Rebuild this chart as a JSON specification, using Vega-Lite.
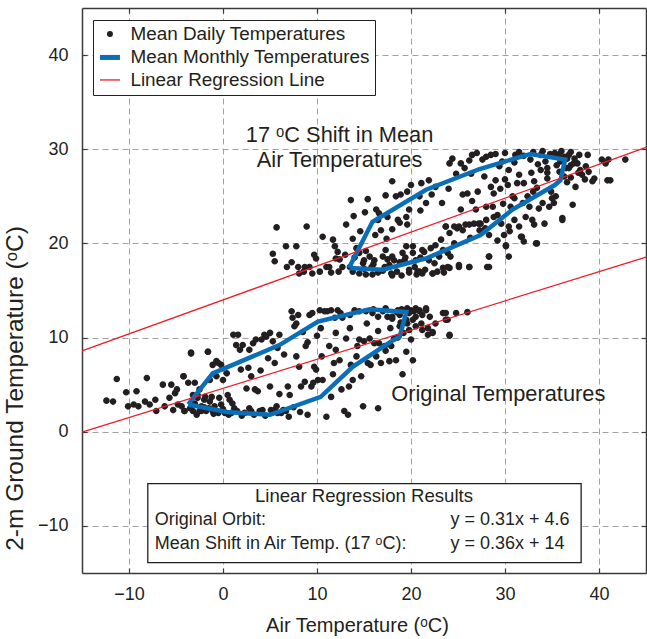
{
  "$schema": "https://vega.github.io/schema/vega-lite/v6.json",
  "width": 564,
  "height": 565,
  "autosize": {"type": "none"},
  "padding": {"left": 82, "top": 8, "right": 1, "bottom": 66},
  "background": "white",
  "datasets": {
    "daily": [
      {"x":5.3,"y":18.9},{"x":5.5,"y":18.1},{"x":5.7,"y":21.7},{"x":6.7,"y":19.7},{"x":6.8,"y":17.5},{"x":7.3,"y":18.0},{"x":7.8,"y":19.7},{"x":8.0,"y":17.5},{"x":8.1,"y":16.8},{"x":8.7,"y":17.5},
      {"x":8.9,"y":21.8},{"x":9.2,"y":17.5},{"x":9.7,"y":18.8},{"x":9.9,"y":18.4},{"x":10.6,"y":20.7},{"x":11.0,"y":17.5},{"x":11.3,"y":17.5},{"x":11.7,"y":20.4},{"x":11.9,"y":19.7},{"x":12.0,"y":18.4},
      {"x":12.2,"y":19.1},{"x":12.4,"y":18.3},{"x":12.7,"y":17.5},{"x":13.1,"y":22.0},{"x":13.5,"y":17.5},{"x":13.6,"y":24.6},{"x":13.8,"y":20.5},{"x":14.2,"y":19.5},{"x":14.5,"y":19.0},{"x":14.9,"y":17.9},
      {"x":15.0,"y":18.2},{"x":15.2,"y":16.7},{"x":15.4,"y":24.7},{"x":15.6,"y":18.6},{"x":15.8,"y":17.5},{"x":15.9,"y":16.7},{"x":16.1,"y":18.2},{"x":16.3,"y":23.6},{"x":16.5,"y":22.5},{"x":16.6,"y":23.2},
      {"x":16.8,"y":21.4},{"x":17.0,"y":18.6},{"x":17.2,"y":17.5},{"x":17.3,"y":25.1},{"x":17.5,"y":22.8},{"x":17.7,"y":17.7},{"x":17.9,"y":16.8},{"x":18.0,"y":26.6},{"x":18.2,"y":18.2},{"x":18.4,"y":25.0},
      {"x":18.6,"y":22.5},{"x":18.8,"y":22.2},{"x":18.9,"y":25.2},{"x":19.1,"y":19.0},{"x":19.3,"y":18.2},{"x":19.5,"y":22.8},{"x":19.6,"y":25.5},{"x":19.8,"y":23.6},{"x":20.0,"y":26.2},{"x":20.2,"y":19.7},
      {"x":20.4,"y":17.5},{"x":20.5,"y":18.2},{"x":20.7,"y":17.0},{"x":20.9,"y":25.0},{"x":21.1,"y":26.4},{"x":21.2,"y":16.8},{"x":21.4,"y":19.1},{"x":21.6,"y":24.3},{"x":21.9,"y":26.7},{"x":22.1,"y":19.5},
      {"x":22.3,"y":16.8},{"x":22.5,"y":17.9},{"x":22.6,"y":26.0},{"x":23.0,"y":18.6},{"x":23.2,"y":20.4},{"x":23.4,"y":19.3},{"x":23.7,"y":21.8},{"x":23.9,"y":17.5},{"x":24.1,"y":28.5},{"x":24.2,"y":18.6},
      {"x":24.4,"y":29.0},{"x":24.6,"y":21.8},{"x":24.8,"y":27.4},{"x":24.9,"y":21.6},{"x":25.1,"y":17.5},{"x":25.3,"y":23.6},{"x":25.5,"y":21.4},{"x":25.7,"y":28.0},{"x":25.8,"y":22.0},{"x":26.0,"y":25.3},
      {"x":26.2,"y":17.5},{"x":26.4,"y":27.4},{"x":26.5,"y":29.4},{"x":26.7,"y":22.1},{"x":26.9,"y":23.6},{"x":27.1,"y":25.5},{"x":27.3,"y":21.4},{"x":27.4,"y":22.1},{"x":27.6,"y":28.9},{"x":27.8,"y":27.1},
      {"x":28.0,"y":22.5},{"x":28.1,"y":17.5},{"x":28.3,"y":18.6},{"x":28.5,"y":29.4},{"x":28.7,"y":23.9},{"x":28.8,"y":25.3},{"x":29.0,"y":26.7},{"x":29.2,"y":23.0},{"x":29.4,"y":28.2},{"x":29.6,"y":22.1},
      {"x":29.7,"y":28.7},{"x":29.9,"y":20.9},{"x":30.1,"y":19.7},{"x":30.3,"y":26.2},{"x":30.4,"y":18.6},{"x":30.6,"y":23.9},{"x":30.8,"y":25.0},{"x":31.0,"y":22.5},{"x":31.1,"y":29.4},{"x":31.3,"y":26.4},
      {"x":31.5,"y":21.8},{"x":31.7,"y":20.7},{"x":31.9,"y":24.3},{"x":32.0,"y":26.4},{"x":32.2,"y":22.8},{"x":32.4,"y":25.0},{"x":32.6,"y":23.9},{"x":32.7,"y":28.9},{"x":32.9,"y":22.5},{"x":33.1,"y":26.6},
      {"x":33.3,"y":20.0},{"x":33.4,"y":25.9},{"x":33.6,"y":23.7},{"x":33.8,"y":29.4},{"x":34.0,"y":24.3},{"x":34.2,"y":22.1},{"x":34.3,"y":28.7},{"x":34.5,"y":26.9},{"x":34.7,"y":23.9},{"x":34.9,"y":25.5},
      {"x":35.0,"y":24.8},{"x":35.2,"y":24.3},{"x":35.4,"y":25.0},{"x":35.7,"y":29.4},{"x":35.9,"y":28.7},{"x":36.1,"y":22.7},{"x":36.3,"y":27.1},{"x":36.5,"y":28.0},{"x":36.6,"y":29.0},{"x":36.8,"y":29.4},
      {"x":37.0,"y":28.3},{"x":37.2,"y":24.1},{"x":37.3,"y":28.5},{"x":37.5,"y":26.0},{"x":37.7,"y":28.5},{"x":37.9,"y":29.4},{"x":38.0,"y":27.8},{"x":38.2,"y":27.3},{"x":38.6,"y":28.2},{"x":38.8,"y":29.4},
      {"x":38.9,"y":27.6},{"x":39.3,"y":26.6},{"x":39.5,"y":26.9},{"x":40.3,"y":28.9},{"x":40.7,"y":28.5},{"x":40.9,"y":26.7},{"x":41.0,"y":28.9},{"x":41.2,"y":26.7},{"x":42.8,"y":28.9},
      {"x":27.0,"y":29.6},{"x":28.0,"y":29.2},{"x":29.0,"y":29.5},{"x":30.0,"y":29.6},{"x":31.5,"y":29.7},{"x":32.0,"y":29.3},{"x":33.0,"y":29.7},{"x":34.0,"y":29.8},{"x":34.8,"y":29.5},{"x":35.3,"y":29.6},
      {"x":36.0,"y":29.8},{"x":36.3,"y":29.2},{"x":37.0,"y":29.7},{"x":37.4,"y":29.0},{"x":35.5,"y":28.3},{"x":34.5,"y":28.0},{"x":36.8,"y":28.0},{"x":37.8,"y":27.5},{"x":38.5,"y":26.8},{"x":36.6,"y":26.5},
      {"x":37.0,"y":27.0},{"x":35.8,"y":27.6},{"x":33.5,"y":28.4},{"x":31.0,"y":28.6},{"x":30.4,"y":27.8},{"x":26.2,"y":28.8},{"x":25.3,"y":28.5},
      {"x":13.8,"y":17.0},{"x":14.5,"y":16.8},{"x":15.0,"y":17.3},{"x":16.5,"y":16.9},{"x":17.0,"y":17.1},{"x":18.5,"y":17.0},{"x":19.0,"y":16.6},{"x":19.8,"y":16.9},{"x":20.6,"y":16.7},{"x":21.5,"y":17.2},
      {"x":22.8,"y":17.0},{"x":23.5,"y":16.9},{"x":16.0,"y":17.8},{"x":17.5,"y":18.3},{"x":18.8,"y":18.0},{"x":14.0,"y":18.5},{"x":15.2,"y":19.2},{"x":13.0,"y":18.8},{"x":12.3,"y":17.0},{"x":11.5,"y":16.9},
      {"x":10.3,"y":17.0},{"x":9.5,"y":16.8},{"x":8.6,"y":17.0},
      {"x":28.5,"y":26.0},{"x":29.5,"y":25.8},{"x":30.0,"y":26.8},{"x":31.5,"y":27.3},{"x":32.8,"y":27.5},{"x":33.8,"y":27.8},{"x":34.5,"y":27.5},{"x":33.0,"y":25.5},{"x":31.0,"y":24.8},{"x":29.8,"y":24.2},
      {"x":28.0,"y":23.9},{"x":26.5,"y":24.5},{"x":25.5,"y":25.2},{"x":24.0,"y":25.8},{"x":23.3,"y":24.3},{"x":22.2,"y":25.2},{"x":21.0,"y":23.5},{"x":19.6,"y":22.0},{"x":18.0,"y":21.5},{"x":17.4,"y":20.5},
      {"x":16.2,"y":20.9},{"x":14.6,"y":21.3},{"x":13.9,"y":22.9},{"x":15.1,"y":23.3},
      {"x":30.5,"y":21.3},{"x":29.2,"y":20.3},{"x":28.8,"y":22.8},{"x":27.9,"y":21.6},{"x":26.3,"y":20.6},{"x":24.6,"y":20.0},{"x":23.9,"y":19.0},{"x":22.6,"y":19.8},{"x":21.0,"y":18.5},{"x":19.4,"y":18.5},
      {"x":23.7,"y":21.8},{"x":24.1,"y":21.1},{"x":25.1,"y":21.8},{"x":26.2,"y":22.0},{"x":27.2,"y":22.1},{"x":28.3,"y":20.9},{"x":30.1,"y":19.8},{"x":30.4,"y":21.8},{"x":31.8,"y":20.7},{"x":32.0,"y":20.2},
      {"x":33.1,"y":22.0},{"x":33.4,"y":20.0},{"x":36.1,"y":22.5},{"x":17.3,"y":19.3},{"x":18.0,"y":18.6},{"x":19.5,"y":19.7},{"x":20.2,"y":19.0},{"x":21.2,"y":19.3},{"x":21.9,"y":18.2},{"x":23.4,"y":17.4},
      {"x":24.1,"y":17.4},{"x":25.1,"y":17.7},{"x":26.2,"y":17.5},{"x":28.3,"y":17.5},{"x":28.3,"y":18.6},{"x":18.0,"y":16.6},{"x":19.8,"y":17.2},{"x":20.9,"y":17.0},{"x":22.3,"y":16.8},
      {"x":-4.2,"y":5.9},{"x":-4.1,"y":2.2},{"x":-3.4,"y":8.4},{"x":-3.2,"y":2.2},{"x":-3.0,"y":5.2},{"x":-2.7,"y":3.9},{"x":-2.5,"y":4.5},{"x":-2.3,"y":2.2},{"x":-2.0,"y":3.4},{"x":-1.8,"y":2.2},
      {"x":-1.6,"y":8.5},{"x":-1.4,"y":5.5},{"x":-1.2,"y":3.7},{"x":-1.1,"y":2.2},{"x":-0.7,"y":7.5},{"x":-0.7,"y":5.9},{"x":-0.5,"y":2.0},{"x":-0.4,"y":3.6},{"x":-0.2,"y":7.1},{"x":0.0,"y":5.5},
      {"x":0.2,"y":2.0},{"x":0.4,"y":6.2},{"x":0.5,"y":3.9},{"x":0.7,"y":3.4},{"x":0.9,"y":2.0},{"x":1.1,"y":10.3},{"x":1.2,"y":2.5},{"x":1.4,"y":9.2},{"x":1.6,"y":10.3},{"x":1.8,"y":8.7},
      {"x":1.9,"y":6.6},{"x":2.1,"y":9.2},{"x":2.3,"y":2.0},{"x":2.5,"y":4.6},{"x":2.7,"y":6.8},{"x":2.8,"y":8.7},{"x":3.0,"y":2.2},{"x":3.2,"y":9.4},{"x":3.4,"y":4.5},{"x":3.5,"y":9.8},
      {"x":3.7,"y":4.3},{"x":3.9,"y":2.2},{"x":4.1,"y":9.8},{"x":4.2,"y":2.3},{"x":4.4,"y":10.3},{"x":4.6,"y":10.1},{"x":4.8,"y":7.8},{"x":5.0,"y":10.5},{"x":5.1,"y":2.3},{"x":5.3,"y":9.6},
      {"x":5.5,"y":2.3},{"x":5.7,"y":2.7},{"x":5.8,"y":8.9},{"x":6.0,"y":10.3},{"x":6.2,"y":2.0},{"x":6.4,"y":2.3},{"x":6.7,"y":2.2},{"x":6.9,"y":4.8},{"x":7.1,"y":3.9},{"x":7.3,"y":12.8},
      {"x":7.4,"y":12.1},{"x":7.6,"y":11.2},{"x":7.8,"y":11.5},{"x":8.0,"y":12.4},{"x":8.1,"y":6.9},{"x":8.3,"y":4.8},{"x":8.5,"y":10.6},{"x":8.7,"y":5.3},{"x":8.8,"y":9.1},{"x":9.0,"y":1.8},
      {"x":9.2,"y":12.4},{"x":9.4,"y":4.8},{"x":9.6,"y":5.2},{"x":9.7,"y":6.9},{"x":9.9,"y":6.6},{"x":10.1,"y":5.5},{"x":10.3,"y":12.9},{"x":10.4,"y":11.0},{"x":10.6,"y":5.5},{"x":10.8,"y":12.8},
      {"x":11.0,"y":1.6},{"x":11.1,"y":12.8},{"x":11.3,"y":9.1},{"x":11.5,"y":3.7},{"x":11.7,"y":6.1},{"x":11.9,"y":12.1},{"x":12.0,"y":8.7},{"x":12.2,"y":12.9},{"x":12.4,"y":7.6},{"x":12.6,"y":4.5},
      {"x":12.7,"y":12.1},{"x":12.9,"y":2.2},{"x":13.1,"y":9.9},{"x":13.3,"y":1.8},{"x":13.4,"y":4.8},{"x":13.6,"y":7.1},{"x":13.8,"y":5.5},{"x":14.0,"y":12.9},{"x":14.2,"y":8.0},{"x":14.3,"y":9.1},
      {"x":14.5,"y":9.8},{"x":14.7,"y":5.9},{"x":14.9,"y":2.7},{"x":15.0,"y":9.6},{"x":15.2,"y":12.8},{"x":15.4,"y":7.3},{"x":15.6,"y":9.9},{"x":15.7,"y":7.1},{"x":15.9,"y":12.6},{"x":16.1,"y":9.4},
      {"x":16.3,"y":8.0},{"x":16.5,"y":2.5},{"x":16.6,"y":9.4},{"x":16.8,"y":7.3},{"x":17.0,"y":12.8},{"x":17.2,"y":9.1},{"x":17.3,"y":13.1},{"x":17.5,"y":12.2},{"x":17.7,"y":7.5},{"x":17.9,"y":9.1},
      {"x":18.0,"y":12.2},{"x":18.2,"y":9.9},{"x":18.4,"y":7.6},{"x":18.6,"y":12.9},{"x":18.8,"y":12.4},{"x":19.1,"y":6.1},{"x":19.3,"y":11.7},{"x":19.5,"y":8.5},{"x":19.6,"y":13.1},{"x":19.8,"y":12.6},
      {"x":20.0,"y":9.8},{"x":20.2,"y":7.6},{"x":20.3,"y":12.8},{"x":20.5,"y":12.2},{"x":20.9,"y":12.9},{"x":21.1,"y":11.5},{"x":21.2,"y":12.4},{"x":21.6,"y":13.1},{"x":21.8,"y":11.0},{"x":22.3,"y":10.5},
      {"x":22.6,"y":11.5},{"x":23.4,"y":12.6},{"x":23.7,"y":11.9},{"x":24.1,"y":10.3},{"x":24.8,"y":12.6},
      {"x":-12.4,"y":3.3},{"x":-11.7,"y":3.2},{"x":-11.3,"y":5.6},{"x":-10.3,"y":4.2},{"x":-10.1,"y":2.7},{"x":-9.5,"y":2.9},{"x":-9.2,"y":4.3},{"x":-9.0,"y":2.7},{"x":-8.3,"y":3.2},{"x":-8.1,"y":5.7},
      {"x":-7.8,"y":2.9},{"x":-7.2,"y":3.4},{"x":-7.1,"y":2.2},{"x":-6.4,"y":5.0},{"x":-6.2,"y":2.7},{"x":-5.7,"y":3.6},{"x":-5.5,"y":5.0},{"x":-5.3,"y":2.3},{"x":-5.1,"y":4.1},{"x":-4.9,"y":4.5},
      {"x":-4.8,"y":2.9},{"x":-4.4,"y":2.7},{"x":-4.2,"y":5.9},{"x":-4.1,"y":2.2},{"x":-3.7,"y":5.2},{"x":-3.4,"y":8.3},{"x":-3.2,"y":3.9},{"x":-3.0,"y":3.0},{"x":-2.7,"y":3.6},{"x":-2.5,"y":2.2},
      {"x":-2.3,"y":2.7},{"x":-1.9,"y":3.7},{"x":-1.6,"y":8.5},{"x":-1.4,"y":3.2},{"x":-1.1,"y":7.1},{"x":-0.9,"y":2.7},{"x":-0.5,"y":7.3},
      {"x":20.0,"y":12.9},{"x":20.5,"y":13.1},{"x":20.9,"y":12.8},{"x":21.6,"y":12.9},{"x":22.0,"y":12.2},{"x":20.2,"y":11.9},{"x":20.5,"y":11.2},{"x":21.2,"y":10.8},{"x":21.8,"y":10.3},{"x":22.3,"y":10.6},
      {"x":23.7,"y":12.6},{"x":23.9,"y":11.9},{"x":24.1,"y":10.2},{"x":26.0,"y":12.7},{"x":19.5,"y":11.9},{"x":19.8,"y":10.8},{"x":18.0,"y":12.0},{"x":18.8,"y":11.2},
      {"x":-2.0,"y":2.6},{"x":-1.0,"y":1.9},{"x":0.0,"y":2.4},{"x":0.6,"y":1.8},{"x":1.5,"y":2.2},{"x":2.0,"y":1.7},{"x":2.8,"y":2.5},{"x":3.3,"y":1.8},{"x":4.5,"y":1.7},{"x":5.8,"y":2.0},
      {"x":7.0,"y":1.6},{"x":7.5,"y":2.6},{"x":8.2,"y":2.1},{"x":1.0,"y":3.0},{"x":-0.2,"y":2.9},{"x":-1.5,"y":2.5},{"x":-3.5,"y":2.5},{"x":-2.8,"y":1.8},{"x":9.5,"y":12.6},{"x":11.5,"y":12.9},
      {"x":12.5,"y":12.6},{"x":13.5,"y":12.4},{"x":14.5,"y":12.8},{"x":16.0,"y":13.0},{"x":16.5,"y":12.2},{"x":18.5,"y":12.7},{"x":19.0,"y":13.0},{"x":18.9,"y":11.6},{"x":19.2,"y":10.5},{"x":19.6,"y":11.5},
      {"x":18.6,"y":10.0},{"x":17.8,"y":11.0},{"x":3.0,"y":5.9},{"x":4.0,"y":6.5},{"x":5.5,"y":7.3},{"x":6.5,"y":8.2},{"x":7.8,"y":8.0},{"x":9.0,"y":9.5},{"x":10.0,"y":10.2},{"x":12.0,"y":10.5},
      {"x":13.5,"y":11.0},{"x":6.0,"y":4.0},{"x":5.0,"y":4.8},{"x":10.5,"y":8.0},{"x":11.8,"y":7.3},{"x":16.5,"y":10.7},{"x":17.3,"y":8.6},{"x":15.3,"y":11.5}
    ],
    "monthly": [
      {"g":"orig","i":0,"x":-3.7,"y":2.9},{"g":"orig","i":1,"x":-1.1,"y":6.2},{"g":"orig","i":2,"x":6.0,"y":9.2},{"g":"orig","i":3,"x":10.1,"y":11.7},
      {"g":"orig","i":4,"x":15.6,"y":13.0},{"g":"orig","i":5,"x":19.5,"y":12.7},{"g":"orig","i":6,"x":18.8,"y":10.1},{"g":"orig","i":7,"x":17.9,"y":9.6},
      {"g":"orig","i":8,"x":13.8,"y":6.9},{"g":"orig","i":9,"x":10.4,"y":3.7},{"g":"orig","i":10,"x":5.0,"y":1.8},{"g":"orig","i":11,"x":0.4,"y":2.1},{"g":"orig","i":12,"x":-3.7,"y":2.9},
      {"g":"shift","i":0,"x":13.4,"y":17.4},{"g":"shift","i":1,"x":15.9,"y":22.3},{"g":"shift","i":2,"x":21.6,"y":25.7},{"g":"shift","i":3,"x":27.3,"y":27.9},
      {"g":"shift","i":4,"x":32.7,"y":29.5},{"g":"shift","i":5,"x":36.4,"y":28.9},{"g":"shift","i":6,"x":35.9,"y":26.7},{"g":"shift","i":7,"x":35.3,"y":26.2},
      {"g":"shift","i":8,"x":30.8,"y":23.6},{"g":"shift","i":9,"x":27.4,"y":20.9},{"g":"shift","i":10,"x":21.6,"y":18.4},{"g":"shift","i":11,"x":17.0,"y":17.2},{"g":"shift","i":12,"x":13.4,"y":17.4}
    ],
    "regression": [
      {"g":"orig","x":-15,"y":-0.05},{"g":"orig","x":45,"y":18.55},
      {"g":"shift","x":-15,"y":8.6},{"g":"shift","x":45,"y":30.2}
    ]
  },
  "layer": [
    {
      "data": {"name": "daily"},
      "mark": {"type": "point", "filled": true, "size": 1089, "opacity": 1, "strokeWidth": 0},
      "encoding": {
        "x": {"field": "x", "type": "quantitative",
              "scale": {"domain": [-15, 45], "nice": false, "zero": false},
              "axis": {"orient": "bottom", "values": [-10, 0, 10, 20, 30, 40], "grid": true,
                       "title": "Air Temperature (ᵒC)", "titleX": 275, "labelPadding": 17, "titlePadding": 12}},
        "y": {"field": "y", "type": "quantitative",
              "scale": {"domain": [-15, 45], "nice": false, "zero": false},
              "axis": {"orient": "left", "values": [-10, 0, 10, 20, 30, 40], "grid": true,
                       "title": "2-m Ground Temperature (ᵒC)", "titleFontSize": 24.5, "titleY": 380, "labelPadding": 19, "titlePadding": 10}},
        "color": {
          "datum": "Mean Daily Temperatures", "type": "nominal",
          "scale": {"domain": ["Mean Daily Temperatures", "Mean Monthly Temperatures", "Linear Regression Line"],
                    "range": ["#231f20", "#0a6fb8", "#ee1c25"]},
          "legend": {
            "orient": "none", "legendX": 11, "legendY": 12, "title": null,
            "labelFontSize": 18.9, "labelColor": "#231f20", "labelLimit": 400,
            "symbolSize": 400, "symbolStrokeWidth": 3, "padding": 4.5, "rowPadding": 2.5,
            "symbolOffset": 3, "labelOffset": 11,
            "fillColor": "white", "strokeColor": "#231f20",
            "encode": {
              "symbols": {
                "update": {
                  "strokeWidth": {"signal": "datum.value === 'Mean Monthly Temperatures' ? 5 : (datum.value === 'Linear Regression Line' ? 1.3 : 2)"}
                }
              }
            }
          }
        },
        "shape": {
          "datum": "Mean Daily Temperatures", "type": "nominal",
          "scale": {"domain": ["Mean Daily Temperatures", "Mean Monthly Temperatures", "Linear Regression Line"],
                    "range": ["M0.2,0A0.2,0.2,0,1,1,-0.2,0A0.2,0.2,0,1,1,0.2,0Z", "stroke", "stroke"]}
        }
      }
    },
    {
      "data": {"name": "monthly"},
      "mark": {"type": "line", "strokeWidth": 4.5, "strokeJoin": "miter"},
      "encoding": {
        "x": {"field": "x", "type": "quantitative", "axis": null},
        "y": {"field": "y", "type": "quantitative", "axis": null},
        "detail": {"field": "g"},
        "order": {"field": "i", "type": "quantitative"},
        "color": {"datum": "Mean Monthly Temperatures", "type": "nominal"}
      }
    },
    {
      "data": {"name": "regression"},
      "mark": {"type": "line", "strokeWidth": 1.3},
      "encoding": {
        "x": {"field": "x", "type": "quantitative",
              "axis": {"orient": "top", "values": [-10, 0, 10, 20, 30, 40], "labels": false, "title": null, "grid": false}},
        "y": {"field": "y", "type": "quantitative",
              "axis": {"orient": "right", "values": [-10, 0, 10, 20, 30, 40], "labels": false, "title": null, "grid": false}},
        "detail": {"field": "g"},
        "color": {"datum": "Linear Regression Line", "type": "nominal"}
      }
    },
    {
      "data": {"values": [{}]},
      "mark": {"type": "text", "text": ["17 ᵒC Shift in Mean", "Air Temperatures"], "fontSize": 21.8, "align": "center", "baseline": "middle", "lineHeight": 25, "color": "#231f20"},
      "encoding": {
        "x": {"datum": 12.4, "type": "quantitative", "axis": null},
        "y": {"datum": 31.5, "type": "quantitative", "axis": null}
      }
    },
    {
      "data": {"values": [{}]},
      "mark": {"type": "text", "text": "Original Temperatures", "fontSize": 21.8, "align": "left", "baseline": "middle", "color": "#231f20"},
      "encoding": {
        "x": {"datum": 17.9, "type": "quantitative", "axis": null},
        "y": {"datum": 4.0, "type": "quantitative", "axis": null}
      }
    },
    {
      "data": {"values": [{}]},
      "mark": {"type": "rect", "fill": "white", "stroke": "#231f20", "strokeWidth": 1.3},
      "encoding": {
        "x": {"datum": -8.0, "type": "quantitative", "axis": null},
        "x2": {"datum": 38.1},
        "y": {"datum": -5.5, "type": "quantitative", "axis": null},
        "y2": {"datum": -13.9}
      }
    },
    {
      "data": {"values": [{}]},
      "mark": {"type": "text", "text": "Linear Regression Results", "fontSize": 18.6, "align": "center", "baseline": "middle", "color": "#231f20"},
      "encoding": {
        "x": {"datum": 15.0, "type": "quantitative", "axis": null},
        "y": {"datum": -6.8, "type": "quantitative", "axis": null}
      }
    },
    {
      "data": {"values": [{}]},
      "mark": {"type": "text", "text": ["Original Orbit:", "Mean Shift in Air Temp. (17 ᵒC):"], "fontSize": 18, "align": "left", "baseline": "middle", "lineHeight": 24, "color": "#231f20"},
      "encoding": {
        "x": {"datum": -7.25, "type": "quantitative", "axis": null},
        "y": {"datum": -9.35, "type": "quantitative", "axis": null}
      }
    },
    {
      "data": {"values": [{}]},
      "mark": {"type": "text", "text": ["y = 0.31x + 4.6", "y = 0.36x + 14"], "fontSize": 18, "align": "left", "baseline": "middle", "lineHeight": 24, "color": "#231f20"},
      "encoding": {
        "x": {"datum": 24.2, "type": "quantitative", "axis": null},
        "y": {"datum": -9.35, "type": "quantitative", "axis": null}
      }
    }
  ],
  "resolve": {"axis": {"x": "independent", "y": "independent"}},
  "config": {
    "font": "Liberation Sans",
    "view": {"stroke": null},
    "axis": {
      "domainColor": "#3a3a3a", "domainWidth": 1.5,
      "tickColor": "#3a3a3a", "tickWidth": 1.2, "tickSize": -5,
      "labelFontSize": 18, "labelColor": "#231f20", "labelFont": "Liberation Sans",
      "titleFontSize": 20, "titleFontWeight": "normal", "titleColor": "#231f20", "titleFont": "Liberation Sans",
      "gridColor": "#a0a0a0", "gridDash": [6, 4], "gridWidth": 1, "gridOpacity": 1
    },
    "legend": {"labelFont": "Liberation Sans", "symbolOpacity": 1},
    "text": {"font": "Liberation Sans"}
  }
}
